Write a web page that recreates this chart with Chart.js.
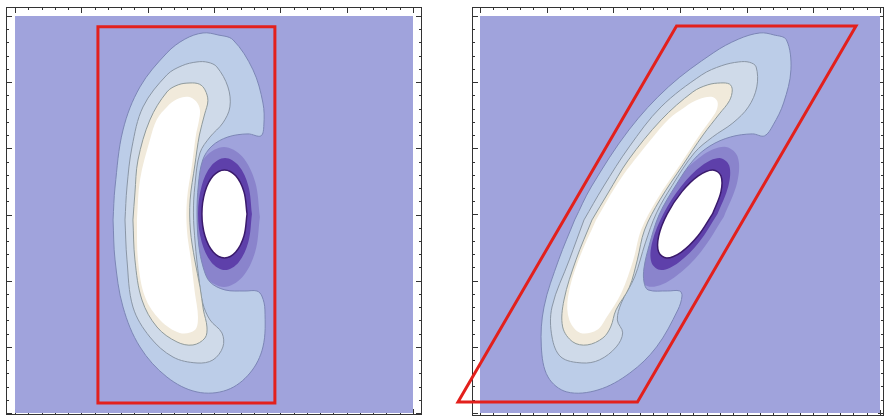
<!DOCTYPE html>
<html>
<head>
<meta charset="utf-8">
<script src="https://cdn.jsdelivr.net/npm/chart.js@4.4.1/dist/chart.umd.min.js"></script>
<style>
  body { margin: 0; background: #fff; }
  #wrap { position: relative; width: 885px; height: 420px; }
  canvas { position: absolute; top: 0; }
</style>
</head>
<body>
<div id="wrap">
  <canvas id="leftPlot" width="440" height="420" style="left:0"></canvas>
  <canvas id="rightPlot" width="445" height="420" style="left:440px"></canvas>
</div>
<script>
// plot domain, both panels (30 minor divisions each way)
var domain = [[0, 0], [30, 0], [30, 30], [0, 30]];

// ---- left panel: unsheared vortex pair ----
var leftOuter = [[7.39,14.59],[7.54,11.57],[8.14,8.01],[9.42,4.99],[11.45,2.72],[13.72,1.59],[15.98,1.74],[17.71,3.02],[18.69,4.99],[18.84,7.79],[18.61,8.84],[18.24,9.22],[17.33,9.22],[15.83,9.30],[14.70,9.90],[14.20,10.96],[13.85,12.70],[13.72,14.97],[13.82,17.23],[14.15,19.12],[14.85,20.18],[16.05,20.86],[17.56,21.09],[18.54,20.94],[18.76,21.77],[18.69,23.43],[17.94,25.93],[16.43,28.20],[15.30,28.57],[14.17,28.72],[12.80,28.25],[11.45,27.21],[9.42,24.64],[8.14,21.39],[7.54,17.08]];
var leftMid = [[8.29,14.59],[8.44,11.57],[8.89,8.01],[10.17,5.74],[11.91,4.23],[13.72,3.78],[14.92,4.01],[15.67,4.99],[15.60,6.05],[14.70,7.03],[14.15,8.31],[13.85,10.28],[13.58,12.85],[13.45,15.12],[13.56,17.20],[13.94,19.65],[14.70,20.86],[15.67,21.92],[16.20,23.13],[16.05,24.64],[15.22,26.15],[14.55,26.50],[13.72,26.53],[12.60,26.25],[11.45,25.55],[9.65,23.13],[8.82,20.11],[8.44,17.08]];
var leftInner = [[8.89,14.59],[9.04,11.57],[9.57,8.54],[10.70,6.50],[12.21,5.37],[13.41,5.14],[14.32,5.67],[14.47,6.50],[14.20,7.79],[13.95,9.50],[13.55,11.57],[13.22,13.83],[13.20,16.10],[13.56,18.75],[13.90,21.01],[14.30,22.60],[14.54,23.60],[14.32,24.42],[13.90,24.85],[13.19,24.94],[12.30,24.80],[11.45,24.26],[10.17,22.15],[9.27,19.12],[9.04,16.63]];
var leftCore = [[9.19,14.59],[9.27,11.57],[9.80,8.77],[10.93,7.03],[12.43,6.05],[13.56,6.27],[13.79,7.26],[13.56,9.07],[13.26,11.57],[12.96,13.83],[12.96,16.10],[13.34,18.75],[13.64,21.01],[13.85,22.00],[13.94,22.90],[13.65,23.55],[13.04,23.89],[12.20,23.70],[11.45,23.13],[10.70,22.20],[10.17,20.64],[9.42,17.61]];
var leftRingOuter = [[18.46,14.82],[18.10,17.47],[17.11,19.40],[15.75,20.11],[14.39,19.40],[13.40,17.47],[13.04,14.82],[13.40,12.17],[14.39,10.24],[15.75,9.53],[17.11,10.24],[18.10,12.17]];
var leftRingInner = [[17.86,15.04],[17.59,17.16],[16.85,18.70],[15.83,19.27],[14.81,18.70],[14.07,17.16],[13.80,15.04],[14.07,12.92],[14.81,11.38],[15.83,10.81],[16.85,11.38],[17.59,12.92]];
var leftEye = [[17.49,15.04],[17.26,16.71],[16.64,17.92],[15.79,18.37],[14.94,17.92],[14.32,16.71],[14.09,15.04],[14.32,13.37],[14.94,12.16],[15.79,11.71],[16.64,12.16],[17.26,13.37]];
var leftBox = [[6.25,0.76],[19.59,0.76],[19.59,29.18],[6.25,29.18]];

// ---- right panel: sheared vortex pair ----
var rightOuter = [[7.10,14.59],[5.90,11.57],[4.80,8.01],[4.60,4.99],[5.10,2.72],[6.51,1.59],[8.85,1.74],[11.24,3.02],[13.24,4.99],[14.84,7.79],[15.15,8.84],[14.98,9.22],[14.07,9.22],[12.61,9.30],[12.30,9.90],[12.30,10.96],[12.70,12.70],[13.43,14.97],[14.70,17.23],[16.01,19.12],[17.25,20.18],[18.80,20.86],[20.43,21.09],[21.34,20.94],[21.99,21.77],[22.77,23.43],[23.32,25.93],[22.98,28.20],[22.04,28.57],[20.99,28.72],[19.38,28.25],[17.49,27.21],[14.13,24.64],[11.17,21.39],[8.34,17.08]];
var rightMid = [[7.80,14.59],[6.70,11.57],[5.40,8.01],[5.40,5.74],[6.07,4.23],[7.64,3.78],[8.96,4.01],[10.22,4.99],[10.70,6.05],[10.30,7.03],[10.60,8.31],[11.60,10.28],[12.40,12.85],[13.24,15.12],[14.42,17.20],[16.07,19.65],[17.45,20.86],[18.97,21.92],[20.13,23.13],[20.76,24.64],[20.71,26.15],[20.22,26.50],[19.41,26.53],[18.14,26.25],[16.63,25.55],[13.58,23.13],[11.19,20.11],[9.24,17.08]];
var rightInner = [[8.40,14.59],[7.20,11.57],[6.30,8.54],[6.20,6.50],[6.96,5.37],[8.04,5.14],[9.22,5.67],[9.80,6.50],[10.20,7.79],[11.20,9.50],[11.80,11.57],[12.34,13.83],[13.49,16.10],[15.22,18.75],[16.73,21.01],[17.95,22.60],[18.71,23.60],[18.92,24.42],[18.72,24.85],[18.05,24.94],[17.09,24.80],[15.96,24.26],[13.59,22.15],[11.13,19.12],[9.61,16.63]];
var rightCore = [[8.70,14.59],[7.40,11.57],[6.60,8.77],[6.70,7.03],[7.53,6.05],[8.77,6.27],[9.51,7.26],[10.60,9.07],[11.50,11.57],[12.08,13.83],[13.25,16.10],[15.00,18.75],[16.47,21.01],[17.19,22.00],[17.75,22.90],[17.80,23.55],[17.36,23.89],[16.42,23.70],[15.38,23.13],[14.15,22.20],[12.81,20.64],[10.49,17.61]];
var rightRingOuter = [[18.29,14.82],[19.30,17.47],[19.31,19.40],[18.32,20.11],[16.59,19.40],[14.60,17.47],[12.87,14.82],[11.86,12.17],[11.85,10.24],[12.85,9.53],[14.57,10.24],[16.56,12.17]];
var rightRingInner = [[17.81,15.04],[18.63,17.16],[18.69,18.70],[17.96,19.27],[16.65,18.70],[15.11,17.16],[13.75,15.04],[12.92,12.92],[12.86,11.38],[13.59,10.81],[14.90,11.38],[16.44,12.92]];
var rightEye = [[17.44,15.04],[18.07,16.71],[18.07,17.92],[17.46,18.37],[16.37,17.92],[15.13,16.71],[14.04,15.04],[13.40,13.37],[13.40,12.16],[14.01,11.71],[15.10,12.16],[16.34,13.37]];
var rightBox = [[-1.65,0.83],[11.81,0.83],[28.20,29.25],[14.74,29.25]];

// turn [x,y] pairs into a closed point list
function closed(pts, extra) {
  var out = pts.map(function (p) { return {x: p[0], y: p[1]}; });
  for (var i = 0; i <= (extra || 0); i++) out.push({x: pts[i][0], y: pts[i][1]});
  return out;
}

function layer(pts, fillColor, lineColor, lineWidth, order, tension) {
  return {
    data: closed(pts),
    backgroundColor: fillColor,
    borderColor: lineColor,
    borderWidth: lineWidth,
    fill: 'shape',
    tension: tension === undefined ? 0.35 : tension,
    pointRadius: 0,
    pointHoverRadius: 0,
    order: order
  };
}

function outline(pts) {
  return {
    data: closed(pts, 1),
    borderColor: '#e3201c',
    borderWidth: 3,
    borderJoinStyle: 'miter',
    fill: false,
    tension: 0,
    pointRadius: 0,
    pointHoverRadius: 0,
    clip: false,
    order: 0
  };
}

// frame with inward tick marks on all four sides
var frameTicks = {
  id: 'frameTicks',
  beforeDatasetsDraw: function (chart) {
    var a = chart.chartArea, ctx = chart.ctx;
    var xs = chart.scales.x, ys = chart.scales.y;
    ctx.save();
    ctx.strokeStyle = '#333';
    ctx.lineWidth = 1;
    ctx.strokeRect(a.left + 0.5, a.top + 0.5, a.right - a.left - 1, a.bottom - a.top - 1);
    ctx.beginPath();
    for (var v = 0; v <= 30; v++) {
      var len = v % 5 === 0 ? 6 : 3;
      var px = Math.round(xs.getPixelForValue(v)) + 0.5;
      var py = Math.round(ys.getPixelForValue(v)) + 0.5;
      ctx.moveTo(px, a.top); ctx.lineTo(px, a.top + len);
      ctx.moveTo(px, a.bottom); ctx.lineTo(px, a.bottom - len);
      ctx.moveTo(a.left, py); ctx.lineTo(a.left + len, py);
      ctx.moveTo(a.right, py); ctx.lineTo(a.right - len, py);
    }
    ctx.stroke();
    ctx.restore();
  }
};

function makePanel(id, p, pad, xr, yr) {
  new Chart(document.getElementById(id).getContext('2d'), {
    type: 'line',
    data: {
      datasets: [
        outline(p.box),
        layer(p.core, '#ffffff', 'rgba(0,0,0,0)', 0, 1),
        layer(p.inner, '#f1eadb', '#8f9a9c', 1, 2),
        layer(p.mid, '#cfdae9', '#8a96a6', 1, 3),
        layer(p.outer, '#bccde8', '#7c86b6', 1, 4),
        layer(p.eye, '#ffffff', '#3a1a6c', 1.5, 5),
        layer(p.ringIn, '#5e40aa', 'rgba(0,0,0,0)', 0, 6),
        layer(p.ringOut, '#8a84cc', 'rgba(0,0,0,0)', 0, 7),
        layer(domain, '#a0a3dc', 'rgba(0,0,0,0)', 0, 8, 0)
      ]
    },
    options: {
      responsive: false,
      animation: false,
      events: [],
      layout: { padding: pad },
      plugins: { legend: { display: false }, tooltip: { enabled: false } },
      scales: {
        x: { type: 'linear', display: false, min: xr[0], max: xr[1] },
        y: { type: 'linear', display: false, min: yr[0], max: yr[1] }
      }
    },
    plugins: [frameTicks]
  });
}

makePanel('leftPlot',
  { box: leftBox, core: leftCore, inner: leftInner, mid: leftMid, outer: leftOuter,
    eye: leftEye, ringIn: leftRingInner, ringOut: leftRingOuter },
  { left: 6, top: 7, right: 18, bottom: 5 }, [-0.68, 30.68], [-0.15, 30.68]);

makePanel('rightPlot',
  { box: rightBox, core: rightCore, inner: rightInner, mid: rightMid, outer: rightOuter,
    eye: rightEye, ringIn: rightRingInner, ringOut: rightRingOuter },
  { left: 32, top: 7, right: 1, bottom: 4 }, [-0.60, 30.30], [-0.23, 30.68]);
</script>
</body>
</html>
